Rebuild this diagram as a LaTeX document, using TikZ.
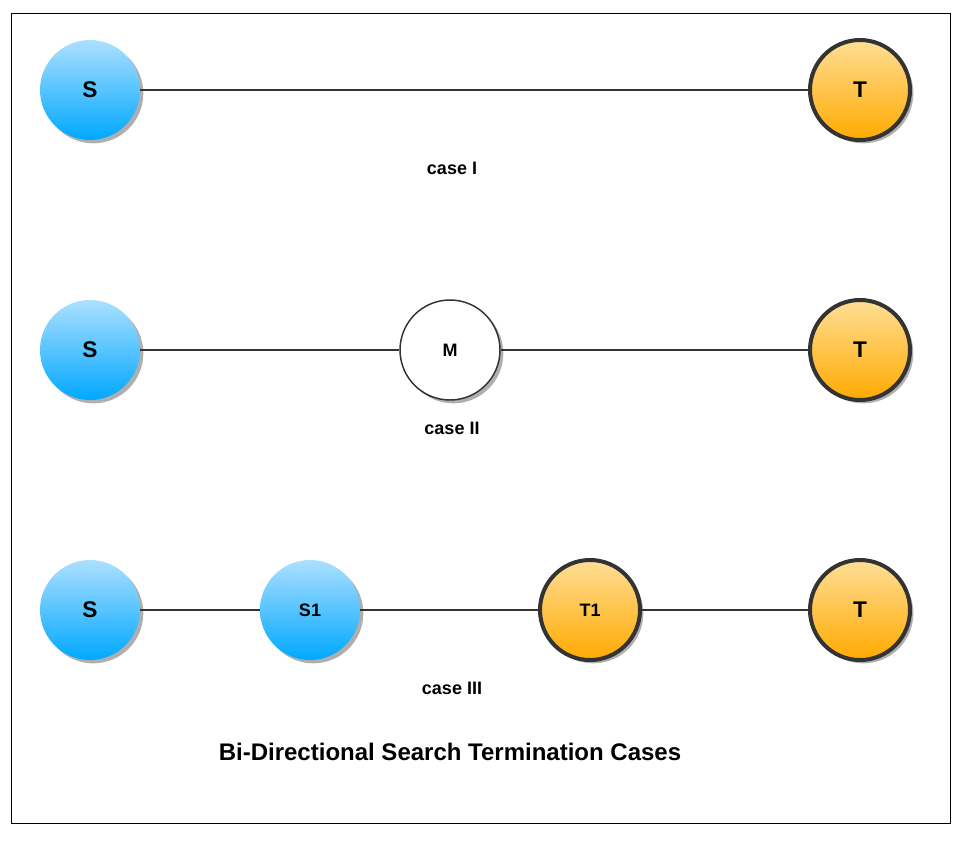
\documentclass[tikz,border=0pt]{standalone}
\usepackage{fontspec}
\setmainfont{Liberation Sans}
\usetikzlibrary{shadows}
\definecolor{sTop}{RGB}{172,224,255}
\definecolor{sBot}{RGB}{0,168,255}
\definecolor{tTop}{RGB}{255,222,150}
\definecolor{tBot}{RGB}{255,170,0}
\definecolor{edgeC}{RGB}{51,51,51}
\definecolor{shadowC}{RGB}{175,175,175}
\tikzset{
  shade/.style={drop shadow={shadow xshift=2.5pt, shadow yshift=-2.5pt, fill=shadowC, opacity=1}},
  snode/.style={circle, minimum size=75pt, inner sep=0pt, top color=sTop, bottom color=sBot, draw=none, shade, font=\bfseries\fontsize{17}{20}\selectfont},
  tnode/.style={circle, minimum size=75pt, inner sep=0pt, top color=tTop, bottom color=tBot, draw=edgeC, line width=3pt, shade, font=\bfseries\fontsize{17}{20}\selectfont},
  smallfont/.style={font=\bfseries\fontsize{13.5}{16}\selectfont},
  mnode/.style={circle, minimum size=75pt, inner sep=0pt, fill=white, draw=edgeC, line width=1.1pt, shade, font=\bfseries\fontsize{13.5}{16}\selectfont},
  link/.style={draw=edgeC, line width=1.5pt},
  caselabel/.style={font=\bfseries\fontsize{13.5}{16}\selectfont},
}
\begin{document}
\begin{tikzpicture}[x=0.75pt,y=-0.75pt]
\useasboundingbox (0,0) rectangle (970,843);
\draw[line width=0.75pt, black] (11,13) rectangle (950,823) ;
% row 1
\node[snode] (s1) at (90,90) {S};
\node[tnode] (t1) at (860,90) {T};
\draw[link] (s1) -- (t1);
\node[caselabel] (c1) at (452,168) {case I};
% row 2
\node[snode] (s2) at (90,350) {S};
\node[mnode] (m2) at (450,350) {M};
\node[tnode] (t2) at (860,350) {T};
\draw[link] (s2) -- (m2);
\draw[link] (m2) -- (t2);
\node[caselabel] (c2) at (452,428) {case II};
% row 3
\node[snode] (s3) at (90,610) {S};
\node[snode, smallfont] (s31) at (310,610) {S1};
\node[tnode, smallfont] (t31) at (590,610) {T1};
\node[tnode] (t3) at (860,610) {T};
\draw[link] (s3) -- (s31);
\draw[link] (s31) -- (t31);
\draw[link] (t31) -- (t3);
\node[caselabel] (c3) at (452,688) {case III};
% title
\node[font=\bfseries\fontsize{18}{21}\selectfont] (title) at (450,752) {Bi-Directional Search Termination Cases};
\end{tikzpicture}
\end{document}
